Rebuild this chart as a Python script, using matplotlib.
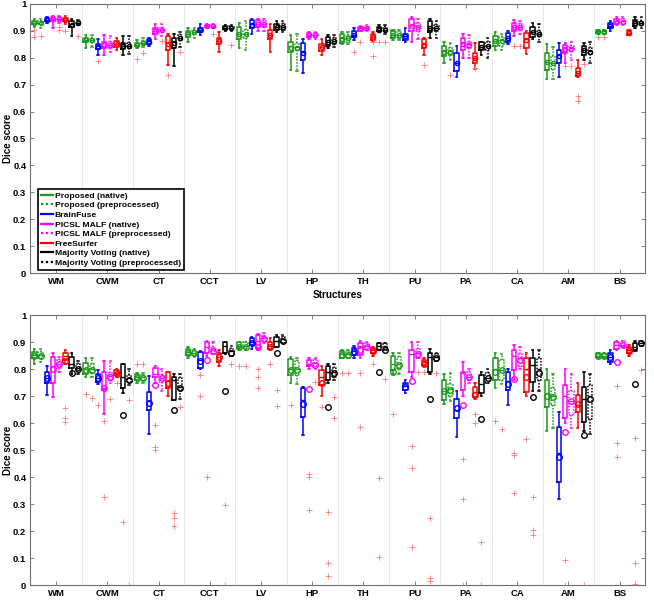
import matplotlib
matplotlib.use("Agg")
import matplotlib.pyplot as plt
from matplotlib.lines import Line2D

plt.rcParams["font.family"] = ["Liberation Sans", "DejaVu Sans"]

structures = ["WM", "CWM", "CT", "CCT", "LV", "HP", "TH", "PU", "PA", "CA", "AM", "BS"]
methods = ["Proposed (native)", "Proposed (preprocessed)", "BrainFuse",
           "PICSL MALF (native)", "PICSL MALF (preprocessed)", "FreeSurfer",
           "Majority Voting (native)", "Majority Voting (preprocessed)"]
colors = ["#1a9a1a", "#1a9a1a", "#0000ff", "#ff00ff", "#ff00ff", "#ff0000", "#000000", "#000000"]
dotted = [False, True, False, False, True, False, False, True]

# ---------------- top panel (rows = methods, cols = structures) ----------------
top_med = [
    [0.930, 0.866, 0.848, 0.888, 0.890, 0.842, 0.872, 0.885, 0.825, 0.862, 0.785, 0.898],
    [0.932, 0.866, 0.855, 0.895, 0.890, 0.840, 0.875, 0.885, 0.825, 0.865, 0.780, 0.898],
    [0.942, 0.842, 0.862, 0.905, 0.925, 0.820, 0.885, 0.880, 0.780, 0.875, 0.810, 0.918],
    [0.944, 0.845, 0.900, 0.918, 0.925, 0.885, 0.910, 0.920, 0.855, 0.915, 0.835, 0.935],
    [0.945, 0.848, 0.905, 0.918, 0.925, 0.885, 0.910, 0.915, 0.850, 0.915, 0.835, 0.935],
    [0.940, 0.852, 0.855, 0.862, 0.885, 0.840, 0.878, 0.850, 0.800, 0.870, 0.745, 0.893],
    [0.925, 0.845, 0.860, 0.912, 0.915, 0.860, 0.905, 0.910, 0.840, 0.895, 0.830, 0.930],
    [0.930, 0.845, 0.875, 0.912, 0.915, 0.862, 0.905, 0.910, 0.845, 0.890, 0.825, 0.930],
]
top_q1 = [
    [0.924, 0.857, 0.842, 0.878, 0.870, 0.823, 0.854, 0.873, 0.805, 0.842, 0.756, 0.891],
    [0.925, 0.857, 0.850, 0.888, 0.872, 0.830, 0.860, 0.873, 0.810, 0.845, 0.760, 0.891],
    [0.937, 0.833, 0.850, 0.895, 0.910, 0.793, 0.877, 0.867, 0.750, 0.860, 0.780, 0.910],
    [0.938, 0.835, 0.890, 0.914, 0.915, 0.878, 0.901, 0.898, 0.830, 0.898, 0.817, 0.926],
    [0.940, 0.838, 0.895, 0.914, 0.915, 0.878, 0.905, 0.900, 0.835, 0.905, 0.825, 0.926],
    [0.935, 0.840, 0.830, 0.850, 0.870, 0.827, 0.867, 0.836, 0.780, 0.836, 0.731, 0.885],
    [0.915, 0.833, 0.835, 0.907, 0.905, 0.845, 0.898, 0.895, 0.830, 0.879, 0.811, 0.918],
    [0.925, 0.835, 0.865, 0.907, 0.905, 0.850, 0.898, 0.900, 0.830, 0.880, 0.815, 0.922],
]
top_q3 = [
    [0.937, 0.872, 0.855, 0.898, 0.915, 0.860, 0.890, 0.904, 0.842, 0.880, 0.817, 0.904],
    [0.938, 0.873, 0.862, 0.902, 0.905, 0.854, 0.885, 0.898, 0.838, 0.878, 0.805, 0.904],
    [0.947, 0.851, 0.870, 0.912, 0.940, 0.854, 0.898, 0.890, 0.817, 0.891, 0.830, 0.930],
    [0.950, 0.858, 0.910, 0.922, 0.940, 0.892, 0.915, 0.943, 0.873, 0.928, 0.848, 0.943],
    [0.950, 0.858, 0.912, 0.922, 0.935, 0.892, 0.915, 0.930, 0.860, 0.925, 0.845, 0.943],
    [0.947, 0.862, 0.880, 0.875, 0.905, 0.852, 0.888, 0.869, 0.817, 0.891, 0.762, 0.904],
    [0.935, 0.856, 0.875, 0.917, 0.925, 0.879, 0.916, 0.935, 0.857, 0.916, 0.842, 0.940],
    [0.935, 0.855, 0.885, 0.917, 0.925, 0.875, 0.915, 0.920, 0.857, 0.900, 0.835, 0.937],
]
top_lo = [
    [0.915, 0.835, 0.835, 0.860, 0.835, 0.755, 0.850, 0.865, 0.780, 0.830, 0.720, 0.890],
    [0.912, 0.840, 0.840, 0.875, 0.830, 0.750, 0.850, 0.865, 0.790, 0.830, 0.720, 0.890],
    [0.928, 0.810, 0.845, 0.885, 0.890, 0.745, 0.865, 0.860, 0.730, 0.850, 0.730, 0.900],
    [0.910, 0.810, 0.870, 0.910, 0.900, 0.870, 0.900, 0.860, 0.800, 0.880, 0.780, 0.920],
    [0.930, 0.820, 0.880, 0.910, 0.900, 0.870, 0.900, 0.870, 0.800, 0.890, 0.790, 0.920],
    [0.925, 0.830, 0.775, 0.820, 0.820, 0.810, 0.860, 0.810, 0.760, 0.815, 0.730, 0.885],
    [0.880, 0.810, 0.770, 0.900, 0.895, 0.835, 0.895, 0.875, 0.810, 0.870, 0.790, 0.910],
    [0.920, 0.815, 0.840, 0.900, 0.895, 0.840, 0.890, 0.875, 0.800, 0.860, 0.780, 0.910],
]
top_hi = [
    [0.945, 0.885, 0.865, 0.910, 0.930, 0.885, 0.895, 0.900, 0.860, 0.895, 0.850, 0.905],
    [0.945, 0.885, 0.872, 0.910, 0.935, 0.890, 0.895, 0.905, 0.855, 0.890, 0.840, 0.905],
    [0.952, 0.870, 0.875, 0.925, 0.945, 0.870, 0.910, 0.910, 0.845, 0.900, 0.855, 0.935],
    [0.955, 0.885, 0.925, 0.925, 0.945, 0.897, 0.918, 0.950, 0.890, 0.940, 0.855, 0.950],
    [0.955, 0.880, 0.925, 0.925, 0.945, 0.897, 0.920, 0.945, 0.885, 0.935, 0.860, 0.950],
    [0.955, 0.875, 0.890, 0.895, 0.925, 0.870, 0.895, 0.875, 0.855, 0.900, 0.790, 0.905],
    [0.945, 0.880, 0.890, 0.920, 0.935, 0.885, 0.920, 0.945, 0.860, 0.930, 0.855, 0.950],
    [0.940, 0.880, 0.895, 0.920, 0.935, 0.885, 0.920, 0.935, 0.875, 0.925, 0.860, 0.950],
]
top_mean = [
    [0.929, 0.865, 0.848, 0.888, 0.889, 0.838, 0.871, 0.886, 0.823, 0.862, 0.786, 0.897],
    [0.930, 0.865, 0.855, 0.894, 0.888, 0.836, 0.873, 0.885, 0.823, 0.863, 0.782, 0.897],
    [0.941, 0.841, 0.860, 0.904, 0.922, 0.818, 0.886, 0.880, 0.782, 0.874, 0.805, 0.919],
    [0.943, 0.846, 0.899, 0.918, 0.925, 0.884, 0.909, 0.917, 0.852, 0.913, 0.832, 0.934],
    [0.944, 0.847, 0.903, 0.918, 0.924, 0.884, 0.909, 0.914, 0.848, 0.913, 0.833, 0.934],
    [0.939, 0.851, 0.852, 0.861, 0.884, 0.839, 0.876, 0.848, 0.800, 0.866, 0.742, 0.892],
    [0.923, 0.845, 0.855, 0.911, 0.915, 0.860, 0.904, 0.912, 0.840, 0.896, 0.828, 0.930],
    [0.929, 0.845, 0.873, 0.911, 0.915, 0.861, 0.904, 0.909, 0.842, 0.889, 0.823, 0.930],
]
# outliers: (structure index, method index, value)
top_fliers = [
    (0, 0, 0.876), (0, 0, 0.903), (0, 1, 0.880), (0, 4, 0.914), (0, 4, 0.904), (0, 5, 0.900), (0, 7, 0.880),
    (1, 2, 0.789),
    (2, 0, 0.795), (2, 1, 0.817), (2, 4, 0.864), (2, 5, 0.736), (2, 7, 0.823),
    (3, 4, 0.888), (3, 7, 0.848),
    (6, 2, 0.822), (6, 3, 0.857), (6, 5, 0.857), (6, 6, 0.857), (6, 7, 0.857), (6, 5, 0.807),
    (7, 5, 0.775),
    (8, 1, 0.737), (8, 5, 0.762),
    (9, 3, 0.842), (9, 4, 0.842),
    (10, 3, 0.768), (10, 4, 0.768), (10, 5, 0.657), (10, 5, 0.640), (10, 6, 0.778),
    (11, 0, 0.879), (11, 1, 0.879),
]

# ---------------- bottom panel ----------------
bot_med = [
    [0.852, 0.800, 0.770, 0.862, 0.885, 0.800, 0.855, 0.820, 0.720, 0.800, 0.710, 0.850],
    [0.852, 0.800, 0.770, 0.860, 0.885, 0.800, 0.855, 0.820, 0.725, 0.795, 0.700, 0.850],
    [0.768, 0.768, 0.680, 0.835, 0.900, 0.685, 0.865, 0.737, 0.650, 0.755, 0.490, 0.845],
    [0.810, 0.730, 0.780, 0.880, 0.905, 0.820, 0.885, 0.855, 0.785, 0.850, 0.700, 0.888],
    [0.820, 0.775, 0.765, 0.870, 0.915, 0.822, 0.885, 0.860, 0.770, 0.840, 0.680, 0.890],
    [0.848, 0.786, 0.755, 0.845, 0.885, 0.770, 0.870, 0.825, 0.715, 0.800, 0.665, 0.870],
    [0.820, 0.770, 0.760, 0.885, 0.905, 0.790, 0.885, 0.845, 0.745, 0.815, 0.690, 0.880],
    [0.805, 0.765, 0.735, 0.865, 0.910, 0.790, 0.885, 0.845, 0.768, 0.800, 0.700, 0.895],
]
bot_q1 = [
    [0.840, 0.781, 0.760, 0.852, 0.877, 0.778, 0.840, 0.796, 0.685, 0.760, 0.660, 0.843],
    [0.840, 0.785, 0.760, 0.852, 0.877, 0.778, 0.840, 0.800, 0.700, 0.760, 0.665, 0.843],
    [0.747, 0.753, 0.648, 0.802, 0.889, 0.623, 0.852, 0.722, 0.617, 0.722, 0.380, 0.827],
    [0.747, 0.722, 0.772, 0.858, 0.877, 0.810, 0.852, 0.790, 0.722, 0.796, 0.617, 0.873],
    [0.802, 0.760, 0.753, 0.855, 0.905, 0.810, 0.875, 0.840, 0.760, 0.810, 0.630, 0.880],
    [0.833, 0.778, 0.728, 0.827, 0.873, 0.740, 0.858, 0.815, 0.698, 0.716, 0.642, 0.860],
    [0.802, 0.728, 0.685, 0.858, 0.883, 0.760, 0.870, 0.790, 0.710, 0.753, 0.605, 0.868],
    [0.796, 0.753, 0.722, 0.850, 0.895, 0.770, 0.872, 0.830, 0.750, 0.760, 0.615, 0.885],
]
bot_q3 = [
    [0.862, 0.823, 0.780, 0.875, 0.900, 0.836, 0.868, 0.850, 0.759, 0.840, 0.759, 0.858],
    [0.862, 0.820, 0.778, 0.872, 0.900, 0.830, 0.868, 0.845, 0.745, 0.835, 0.730, 0.858],
    [0.790, 0.780, 0.716, 0.864, 0.914, 0.728, 0.877, 0.750, 0.688, 0.790, 0.586, 0.858],
    [0.846, 0.790, 0.802, 0.900, 0.926, 0.833, 0.895, 0.870, 0.790, 0.870, 0.740, 0.900],
    [0.833, 0.784, 0.778, 0.880, 0.922, 0.832, 0.895, 0.875, 0.790, 0.855, 0.720, 0.905],
    [0.860, 0.796, 0.790, 0.858, 0.900, 0.796, 0.877, 0.833, 0.735, 0.840, 0.704, 0.883],
    [0.846, 0.820, 0.772, 0.900, 0.920, 0.811, 0.895, 0.858, 0.778, 0.840, 0.735, 0.895],
    [0.820, 0.778, 0.765, 0.875, 0.920, 0.805, 0.895, 0.855, 0.785, 0.840, 0.740, 0.905],
]
bot_lo = [
    [0.820, 0.770, 0.750, 0.840, 0.870, 0.750, 0.840, 0.780, 0.670, 0.730, 0.570, 0.840],
    [0.825, 0.770, 0.750, 0.845, 0.870, 0.745, 0.840, 0.780, 0.680, 0.745, 0.580, 0.840],
    [0.705, 0.745, 0.560, 0.800, 0.875, 0.555, 0.840, 0.710, 0.550, 0.665, 0.320, 0.820],
    [0.695, 0.635, 0.750, 0.850, 0.870, 0.800, 0.840, 0.770, 0.700, 0.760, 0.600, 0.870],
    [0.790, 0.750, 0.720, 0.855, 0.895, 0.800, 0.870, 0.840, 0.750, 0.800, 0.580, 0.880],
    [0.820, 0.770, 0.700, 0.810, 0.870, 0.700, 0.850, 0.810, 0.690, 0.700, 0.580, 0.850],
    [0.780, 0.710, 0.685, 0.855, 0.880, 0.750, 0.870, 0.780, 0.700, 0.720, 0.570, 0.870],
    [0.780, 0.740, 0.690, 0.850, 0.895, 0.760, 0.872, 0.830, 0.750, 0.720, 0.560, 0.885],
]
bot_hi = [
    [0.875, 0.840, 0.785, 0.880, 0.900, 0.845, 0.870, 0.860, 0.780, 0.860, 0.800, 0.860],
    [0.875, 0.840, 0.785, 0.875, 0.900, 0.840, 0.870, 0.860, 0.785, 0.855, 0.780, 0.860],
    [0.810, 0.795, 0.775, 0.868, 0.920, 0.735, 0.885, 0.760, 0.720, 0.800, 0.640, 0.870],
    [0.860, 0.830, 0.810, 0.905, 0.930, 0.840, 0.905, 0.900, 0.827, 0.890, 0.800, 0.905],
    [0.845, 0.830, 0.800, 0.900, 0.935, 0.840, 0.900, 0.900, 0.800, 0.880, 0.780, 0.905],
    [0.870, 0.800, 0.790, 0.870, 0.915, 0.810, 0.880, 0.840, 0.750, 0.860, 0.750, 0.890],
    [0.860, 0.820, 0.780, 0.900, 0.925, 0.820, 0.895, 0.875, 0.790, 0.870, 0.790, 0.905],
    [0.830, 0.800, 0.780, 0.885, 0.925, 0.820, 0.895, 0.860, 0.800, 0.870, 0.780, 0.905],
]
bot_mean = [
    [0.850, 0.795, 0.768, 0.860, 0.882, 0.795, 0.852, 0.790, 0.718, 0.790, 0.700, 0.850],
    [0.850, 0.795, 0.768, 0.858, 0.882, 0.797, 0.852, 0.815, 0.722, 0.795, 0.695, 0.850],
    [0.768, 0.765, 0.675, 0.830, 0.898, 0.670, 0.862, 0.735, 0.655, 0.745, 0.475, 0.843],
    [0.800, 0.730, 0.740, 0.835, 0.880, 0.726, 0.870, 0.757, 0.667, 0.762, 0.565, 0.827],
    [0.818, 0.770, 0.768, 0.868, 0.912, 0.815, 0.883, 0.855, 0.770, 0.835, 0.680, 0.888],
    [0.830, 0.783, 0.750, 0.843, 0.880, 0.750, 0.868, 0.820, 0.705, 0.770, 0.670, 0.865],
    [0.785, 0.628, 0.648, 0.720, 0.860, 0.660, 0.788, 0.690, 0.615, 0.697, 0.557, 0.745],
    [0.800, 0.760, 0.730, 0.860, 0.905, 0.785, 0.870, 0.840, 0.765, 0.785, 0.690, 0.895],
]
bot_fliers = [
    (0, 5, 0.655), (0, 5, 0.620), (0, 5, 0.603),
    (1, 0, 0.706), (1, 1, 0.694), (1, 2, 0.665), (1, 3, 0.606), (1, 3, 0.325), (1, 4, 0.690),
    (1, 5, 0.747), (1, 6, 0.235), (1, 7, 0.685), (1, 7, 0.0),
    (2, 0, 0.818), (2, 1, 0.818), (2, 3, 0.593), (2, 3, 0.510), (2, 3, 0.500),
    (2, 6, 0.265), (2, 6, 0.250), (2, 6, 0.220), (2, 7, 0.660),
    (3, 2, 0.778), (3, 2, 0.700), (3, 3, 0.400), (3, 6, 0.295), (3, 6, 0.0), (3, 7, 0.820),
    (4, 0, 0.810), (4, 1, 0.810), (4, 3, 0.800), (4, 3, 0.772), (4, 3, 0.731), (4, 5, 0.820),
    (4, 6, 0.722), (4, 6, 0.663),
    (5, 0, 0.667), (5, 3, 0.410), (5, 3, 0.400), (5, 3, 0.277), (5, 4, 0.753), (5, 5, 0.658),
    (5, 6, 0.270), (5, 6, 0.080), (5, 6, 0.035), (5, 7, 0.697), (5, 7, 0.620),
    (6, 0, 0.787), (6, 1, 0.787), (6, 3, 0.787), (6, 3, 0.585), (6, 5, 0.818), (6, 7, 0.762),
    (6, 6, 0.397), (6, 6, 0.105),
    (7, 0, 0.632), (7, 3, 0.515), (7, 3, 0.435), (7, 3, 0.140), (7, 4, 0.790), (7, 5, 0.790),
    (7, 6, 0.250), (7, 6, 0.025), (7, 6, 0.015), (7, 7, 0.785),
    (8, 3, 0.465), (8, 3, 0.320), (8, 3, 0.0), (8, 5, 0.633), (8, 5, 0.600), (8, 6, 0.160), (8, 6, 0.0),
    (9, 0, 0.607), (9, 1, 0.578), (9, 3, 0.490), (9, 3, 0.480), (9, 3, 0.340), (9, 5, 0.540),
    (9, 6, 0.325), (9, 6, 0.205), (9, 6, 0.185),
    (10, 3, 0.093), (10, 3, 0.0), (10, 6, 0.0),
    (11, 3, 0.737), (11, 3, 0.527), (11, 3, 0.475), (11, 6, 0.545), (11, 6, 0.080), (11, 6, 0.005),
    (11, 7, 0.796),
]

yticks = [0, 0.1, 0.2, 0.3, 0.4, 0.5, 0.6, 0.7, 0.8, 0.9, 1]

OFFSETS = [(k - 3.5) * 0.121 for k in range(8)]
BOX_W = 0.085
FLIER_COLOR = "#ff7a7a"
AX_COLOR = "#6e6e6e"


def draw_panel(ax, med, q1, q3, lo, hi, mean, fliers, mean_ms):
    for m in range(len(methods)):
        stats = []
        for s in range(len(structures)):
            fl = [v for (si, mi, v) in fliers if si == s and mi == m]
            stats.append(dict(med=med[m][s], q1=q1[m][s], q3=q3[m][s],
                              whislo=lo[m][s], whishi=hi[m][s],
                              mean=mean[m][s], fliers=fl))
        pos = [s + 1 + OFFSETS[m] for s in range(len(structures))]
        ls = (0, (1, 1)) if dotted[m] else "-"
        c = colors[m]
        lp = dict(color=c, linewidth=1.1, linestyle=ls)
        ax.bxp(stats, positions=pos, widths=BOX_W, showmeans=True, showfliers=True,
               boxprops=lp, whiskerprops=lp, capprops=dict(color=c, linewidth=1.1),
               medianprops=dict(color=c, linewidth=1.0),
               meanprops=dict(marker="o", markerfacecolor="none", markeredgecolor=c,
                              markersize=mean_ms, markeredgewidth=1.0),
               flierprops=dict(marker="+", markeredgecolor=FLIER_COLOR, markersize=4,
                               markeredgewidth=0.6, linestyle="none"),
               capwidths=0.03, manage_ticks=False)
    for b in range(1, len(structures)):
        ax.axvline(b + 0.5, color="#e4e4e4", linewidth=0.6, zorder=0)
    ax.set_xlim(0.5, len(structures) + 0.5)
    ax.set_ylim(0, 1)
    ax.set_xticks(range(1, len(structures) + 1))
    ax.set_xticklabels(structures, fontsize=6.8, fontweight="bold")
    ax.set_yticks(yticks)
    ax.set_yticklabels([f"{t:g}" for t in yticks], fontsize=6.8, fontweight="bold")
    ax.tick_params(direction="in", top=True, right=True, length=3, width=0.6,
                   color=AX_COLOR, pad=3)
    for sp in ax.spines.values():
        sp.set_color(AX_COLOR)
        sp.set_linewidth(0.8)
    ax.set_ylabel("Dice score", fontsize=7.0, fontweight="bold")
    ax.yaxis.set_label_coords(-0.029, 0.5)


fig = plt.figure(figsize=(6.54, 6.02), dpi=100)
ax1 = fig.add_axes([0.0466, 0.5465, 0.9400, 0.4469])
ax2 = fig.add_axes([0.0466, 0.0282, 0.9400, 0.4485])

draw_panel(ax1, top_med, top_q1, top_q3, top_lo, top_hi, top_mean, top_fliers, 3.0)
draw_panel(ax2, bot_med, bot_q1, bot_q3, bot_lo, bot_hi, bot_mean, bot_fliers, 4.0)
ax1.set_xlabel("Structures", fontsize=7.2, fontweight="bold", labelpad=3)

handles = [Line2D([0], [0], color=colors[m], linewidth=1.6,
                  linestyle=(0, (1, 1.2)) if dotted[m] else "-") for m in range(len(methods))]
leg = ax1.legend(handles, methods, loc="lower left", bbox_to_anchor=(0.012, 0.011),
                 borderaxespad=0, prop=dict(size=6.1, weight="bold"), handlelength=1.4,
                 handletextpad=0.25, labelspacing=0.2, borderpad=0.35, fancybox=False,
                 framealpha=1, edgecolor="black")
leg.get_frame().set_linewidth(1.2)

fig.savefig("out.png", dpi=100)
